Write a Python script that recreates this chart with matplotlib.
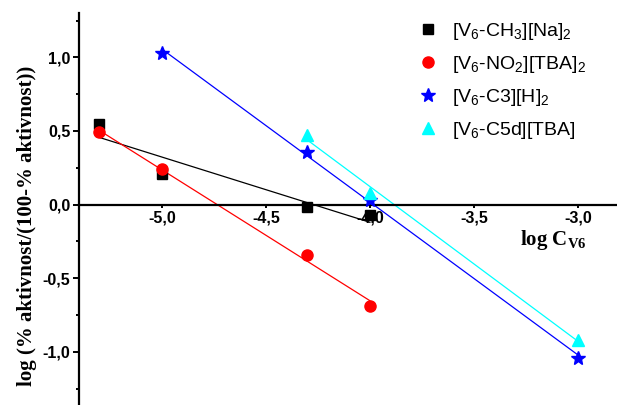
import matplotlib
matplotlib.use("Agg")
import matplotlib.pyplot as plt
import numpy as np
from matplotlib.ticker import FixedLocator, FuncFormatter

plt.rcParams["mathtext.default"] = "regular"

# data
x_ch3 = [-5.3, -5.0, -4.3, -4.0]
y_ch3 = [0.55, 0.21, -0.02, -0.07]
x_no2 = [-5.3, -5.0, -4.3, -4.0]
y_no2 = [0.49, 0.24, -0.34, -0.69]
x_c3 = [-5.0, -4.3, -4.0, -3.0]
y_c3 = [1.03, 0.36, 0.03, -1.04]
x_c5d = [-4.3, -4.0, -3.0]
y_c5d = [0.47, 0.08, -0.92]

labels = [r"[V$_6$-CH$_3$][Na]$_2$", r"[V$_6$-NO$_2$][TBA]$_2$",
          r"[V$_6$-C3][H]$_2$", r"[V$_6$-C5d][TBA]"]
xticks = [-5.0, -4.5, -4.0, -3.5, -3.0]
yticks = [-1.0, -0.5, 0.0, 0.5, 1.0]
yminor = [-1.25, -0.75, -0.25, 0.25, 0.75, 1.25]

series = [
    (x_ch3, y_ch3, "black", "s", 7),
    (x_no2, y_no2, "red", "o", 8),
    (x_c3, y_c3, "blue", "*", 10),
    (x_c5d, y_c5d, "cyan", "^", 8.5),
]

W, H = 617, 405
fig = plt.figure(figsize=(W / 100, H / 100), dpi=100)
L, T = 78.7, 13
ax = fig.add_axes([L / W, 0, 1 - L / W, (H - T) / H])

handles = []
for (xs, ys, c, m, ms), lab in zip(series, labels):
    k, b = np.polyfit(xs, ys, 1)
    xx = np.array([min(xs), max(xs)])
    ax.plot(xx, k * xx + b, color=c, lw=0.9, zorder=2)
    h, = ax.plot(xs, ys, ls="none", marker=m, ms=ms, color=c, mec=c, zorder=3,
                 clip_on=False, label=lab)
    handles.append(h)

ax.set_xlim(-5.399, -2.813)
ax.set_ylim(-1.362, 1.301)

for s in ("top", "right"):
    ax.spines[s].set_visible(False)
ax.spines["bottom"].set_position(("data", 0))
ax.spines["bottom"].set_linewidth(1.6)
ax.spines["left"].set_linewidth(1.6)

fmt = FuncFormatter(lambda v, p: f"{v:.1f}".replace(".", ","))
ax.xaxis.set_major_locator(FixedLocator(xticks))
ax.yaxis.set_major_locator(FixedLocator(yticks))
ax.yaxis.set_minor_locator(FixedLocator(yminor))
ax.xaxis.set_major_formatter(fmt)
ax.yaxis.set_major_formatter(fmt)
ax.tick_params(axis="x", direction="out", length=2.5, width=1.4, pad=2)
ax.tick_params(axis="y", which="major", direction="out", length=4, width=1.4, pad=2)
ax.tick_params(axis="y", which="minor", direction="out", length=2.5, width=1.4)
for t in ax.get_xticklabels() + ax.get_yticklabels():
    t.set_fontfamily("Liberation Sans")
    t.set_fontweight("bold")
    t.set_fontsize(11.5)

serif = dict(family="Liberation Serif", weight="bold", size=15)
ax.set_ylabel("log (% aktivnost/(100-% aktivnost))", **serif)
ax.yaxis.set_label_coords(-0.078, 0.457)
ax.set_xlabel(r"log C$_{V6}$", **serif)
ax.xaxis.set_label_coords(0.881, 0.452)

ax.legend(handles=handles, loc="upper left", bbox_to_anchor=(418 / W, 1 - 21 / H),
          bbox_transform=fig.transFigure, frameon=False, numpoints=1,
          handlelength=1.0, handletextpad=0.75, labelspacing=0.62,
          borderpad=0, borderaxespad=0,
          prop={"family": "Liberation Sans", "size": 14})

fig.savefig("out.png", dpi=100, facecolor="white")
